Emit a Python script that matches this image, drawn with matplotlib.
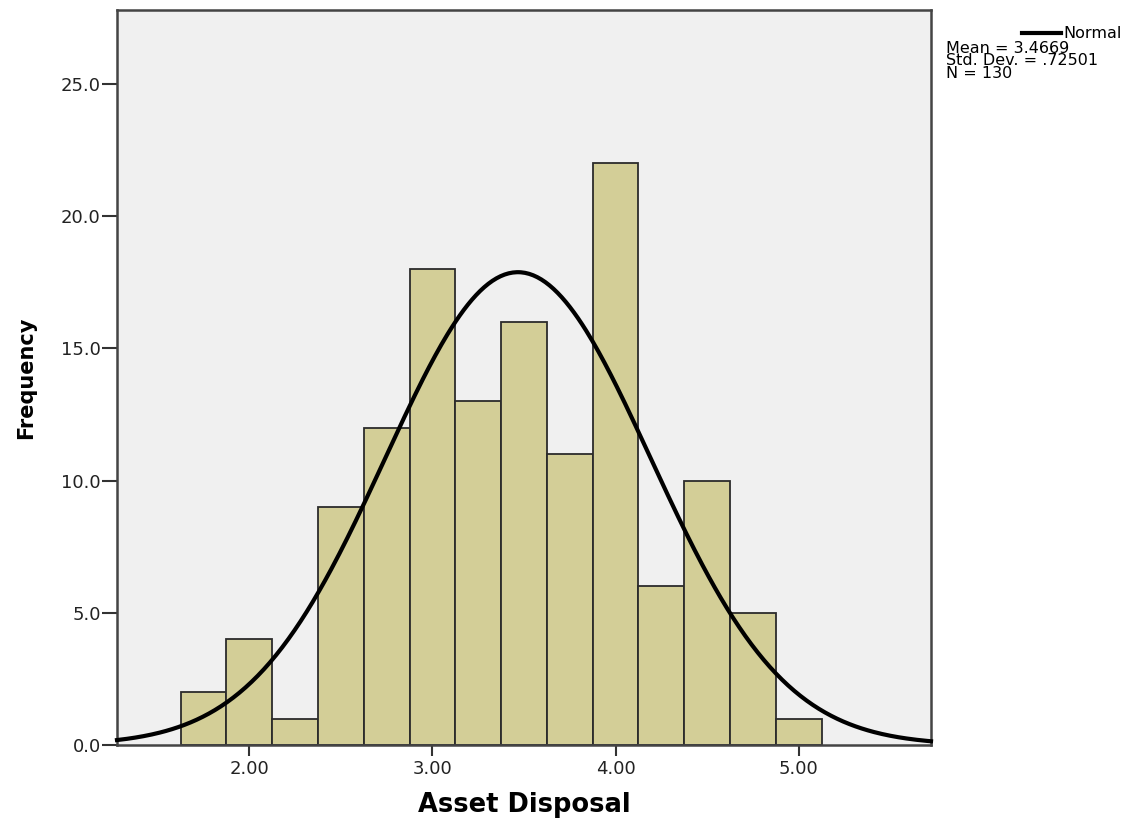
import numpy as np
import matplotlib
matplotlib.use("Agg")
import matplotlib.pyplot as plt
from matplotlib.lines import Line2D

# Data
bin_centers = [1.75, 2.00, 2.25, 2.50, 2.75, 3.00, 3.25, 3.50, 3.75, 4.00, 4.25, 4.50, 4.75, 5.00]
counts = [2, 4, 1, 9, 12, 18, 13, 16, 11, 22, 6, 10, 5, 1]
bin_width = 0.25
mean_val = 3.4669
std_val = 0.72501
n_val = 130
x_ticks = [2.0, 3.0, 4.0, 5.0]
x_ticklabels = ["2.00", "3.00", "4.00", "5.00"]
y_ticks = [0, 5, 10, 15, 20, 25]
y_ticklabels = ["0.0", "5.0", "10.0", "15.0", "20.0", "25.0"]

plt.rcParams['font.family'] = ['DejaVu Sans']

W, H = 1137, 825
fig = plt.figure(figsize=(W / 100, H / 100), dpi=100)
fig.patch.set_facecolor("white")
ax = fig.add_axes([117 / W, (H - 745) / H, (931 - 117) / W, (745 - 10) / H])
ax.set_facecolor("#F0F0F0")

ax.bar(bin_centers, counts, width=bin_width, color="#D3CE97",
       edgecolor="#2B2B2B", linewidth=1.3, zorder=2)

xmin, xmax = 1.277, 5.723
ax.set_xlim(xmin, xmax)
ax.set_ylim(0, 27.8)

xs = np.linspace(xmin, xmax, 400)
ys = n_val * bin_width / (std_val * np.sqrt(2 * np.pi)) * np.exp(-0.5 * ((xs - mean_val) / std_val) ** 2)
ax.plot(xs, ys, color="black", linewidth=3, zorder=3, clip_on=False)

ax.set_xticks(x_ticks)
ax.set_xticklabels(x_ticklabels)
ax.set_yticks(y_ticks)
ax.set_yticklabels(y_ticklabels)
ax.tick_params(axis="x", direction="out", length=8, width=1.5, color="#333333",
               labelsize=13, labelcolor="#222222", pad=3)
ax.tick_params(axis="y", direction="out", length=10.5, width=1.5, color="#333333",
               labelsize=13, labelcolor="#222222", pad=1.2)

for s in ax.spines.values():
    s.set_color("#444444")
    s.set_linewidth(1.8)

ax.set_xlabel("Asset Disposal", fontsize=18.5, fontweight="bold", labelpad=10)
ax.set_ylabel("Frequency", fontsize=15, fontweight="bold", labelpad=18)

# Legend-like annotation
fig.lines.append(Line2D([1022 / W, 1061 / W], [1 - 33 / H, 1 - 33 / H],
                        transform=fig.transFigure, color="black", linewidth=3))
fig.text(1063 / W, 1 - 33 / H, "Normal", fontsize=11.5, va="center", ha="left")
fig.text(946 / W, 1 - 41 / H,
         f"Mean = {mean_val:.4f}\nStd. Dev. = .72501\nN = {n_val}",
         fontsize=11.5, va="top", ha="left", linespacing=0.78)

fig.savefig("out.png", dpi=100)
